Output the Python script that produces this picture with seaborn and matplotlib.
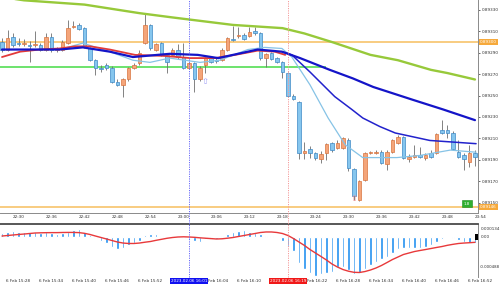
import matplotlib
matplotlib.use("Agg")
import matplotlib.pyplot as plt
import matplotlib.transforms as mtransforms
from matplotlib.lines import Line2D
import seaborn as sns

# ---------------- data ----------------
opens = [0.89300, 0.89293, 0.89305, 0.89299, 0.89298, 0.89297, 0.89297, 0.89297, 0.89293, 0.89305,
         0.89293, 0.89293, 0.89299, 0.89314, 0.89316, 0.89313, 0.89294, 0.89283, 0.89276, 0.89279,
         0.89276, 0.89263, 0.89260, 0.89265, 0.89276, 0.89280, 0.89299, 0.89316, 0.89293, 0.89299,
         0.89288, 0.89288, 0.89293, 0.89286, 0.89276, 0.89280, 0.89265, 0.89279, 0.89285, 0.89283,
         0.89283, 0.89293, 0.89303, 0.89306, 0.89307, 0.89306, 0.89310, 0.89308, 0.89285, 0.89290,
         0.89285, 0.89281, 0.89271, 0.89250, 0.89244, 0.89196, 0.89200, 0.89196, 0.89191, 0.89196,
         0.89206, 0.89201, 0.89201, 0.89208, 0.89181, 0.89152, 0.89171, 0.89196, 0.89196, 0.89197,
         0.89186, 0.89197, 0.89206, 0.89211, 0.89191, 0.89193, 0.89194, 0.89192, 0.89196, 0.89196,
         0.89218, 0.89218, 0.89215, 0.89197, 0.89194, 0.89188, 0.89196]
closes = [0.89293, 0.89304, 0.89297, 0.89298, 0.89299, 0.89296, 0.89298, 0.89293, 0.89305, 0.89293,
          0.89294, 0.89300, 0.89313, 0.89315, 0.89312, 0.89295, 0.89283, 0.89276, 0.89275, 0.89276,
          0.89263, 0.89260, 0.89265, 0.89276, 0.89279, 0.89290, 0.89316, 0.89294, 0.89298, 0.89288,
          0.89281, 0.89293, 0.89286, 0.89276, 0.89280, 0.89265, 0.89276, 0.89285, 0.89281, 0.89282,
          0.89293, 0.89304, 0.89302, 0.89307, 0.89303, 0.89309, 0.89308, 0.89285, 0.89289, 0.89284,
          0.89281, 0.89272, 0.89250, 0.89247, 0.89196, 0.89198, 0.89196, 0.89192, 0.89195, 0.89205,
          0.89199, 0.89206, 0.89210, 0.89182, 0.89156, 0.89170, 0.89196, 0.89197, 0.89197, 0.89187,
          0.89197, 0.89208, 0.89211, 0.89192, 0.89193, 0.89194, 0.89193, 0.89194, 0.89193, 0.89214,
          0.89215, 0.89215, 0.89200, 0.89193, 0.89191, 0.89196, 0.89193]
highs = [0.89304, 0.89311, 0.89308, 0.89304, 0.89303, 0.89301, 0.89310, 0.89299, 0.89308, 0.89308,
         0.89295, 0.89302, 0.89321, 0.89320, 0.89318, 0.89314, 0.89295, 0.89284, 0.89279, 0.89280,
         0.89278, 0.89265, 0.89266, 0.89277, 0.89280, 0.89293, 0.89327, 0.89317, 0.89299, 0.89300,
         0.89289, 0.89294, 0.89298, 0.89299, 0.89281, 0.89281, 0.89278, 0.89286, 0.89286, 0.89286,
         0.89294, 0.89305, 0.89315, 0.89314, 0.89308, 0.89314, 0.89314, 0.89309, 0.89290, 0.89291,
         0.89286, 0.89282, 0.89272, 0.89251, 0.89245, 0.89207, 0.89203, 0.89197, 0.89198, 0.89206,
         0.89207, 0.89208, 0.89211, 0.89210, 0.89182, 0.89171, 0.89197, 0.89198, 0.89199, 0.89199,
         0.89199, 0.89209, 0.89213, 0.89212, 0.89195, 0.89204, 0.89202, 0.89196, 0.89199, 0.89215,
         0.89227, 0.89222, 0.89217, 0.89208, 0.89196, 0.89204, 0.89199]
lows = [0.89291, 0.89292, 0.89295, 0.89296, 0.89296, 0.89281, 0.89295, 0.89292, 0.89292, 0.89291,
        0.89291, 0.89292, 0.89298, 0.89313, 0.89311, 0.89294, 0.89282, 0.89269, 0.89272, 0.89274,
        0.89262, 0.89259, 0.89249, 0.89264, 0.89275, 0.89279, 0.89298, 0.89293, 0.89292, 0.89287,
        0.89271, 0.89287, 0.89284, 0.89275, 0.89275, 0.89253, 0.89264, 0.89271, 0.89280, 0.89280,
        0.89282, 0.89292, 0.89301, 0.89304, 0.89302, 0.89305, 0.89307, 0.89283, 0.89277, 0.89283,
        0.89280, 0.89266, 0.89249, 0.89246, 0.89191, 0.89191, 0.89192, 0.89190, 0.89187, 0.89190,
        0.89197, 0.89200, 0.89200, 0.89179, 0.89152, 0.89151, 0.89170, 0.89195, 0.89195, 0.89186,
        0.89180, 0.89196, 0.89205, 0.89191, 0.89188, 0.89192, 0.89192, 0.89190, 0.89192, 0.89195,
        0.89214, 0.89210, 0.89199, 0.89192, 0.89180, 0.89183, 0.89184]

# moving averages (bar index, price)
ma_olive_x = [0, 4, 15, 25, 31, 42, 51, 55, 60, 67, 72, 78, 81, 86]
ma_olive_y = [0.89342, 0.89339, 0.89335, 0.89327, 0.89323, 0.89316, 0.89313, 0.89308, 0.89300,
              0.89288, 0.89283, 0.89274, 0.89271, 0.89265]
ma_blue_x = [0, 10.5, 14.7, 19.6, 23.8, 30.5, 35.6, 39.3, 46.5, 50.9, 54.2, 59.6, 63.8, 67.5, 74.7, 80.2, 86]
ma_blue_y = [0.89293, 0.89293, 0.89295, 0.89291, 0.89286, 0.89289, 0.89288, 0.89285, 0.89293,
             0.89291, 0.89285, 0.89274, 0.89266, 0.89258, 0.89246, 0.89237, 0.89227]
ma_blue2_x = [50.9, 52.7, 56, 60.5, 63.6, 65.6, 68.7, 71.5, 77.8, 86.2]
ma_blue2_y = [0.89291, 0.89288, 0.89272, 0.89249, 0.89237, 0.89229, 0.89221, 0.89215, 0.89208, 0.89205]
ma_light_x = [10.5, 14.7, 19.6, 23.8, 26.9, 30.5, 36, 39.6, 44.7, 47.8, 50.9, 52.7, 56, 59.3,
              62.4, 65.6, 71.8, 76, 81.5, 86.2]
ma_light_y = [0.89293, 0.89299, 0.89291, 0.89283, 0.89281, 0.89285, 0.89281, 0.89283, 0.89293,
              0.89295, 0.89294, 0.89286, 0.89260, 0.89229, 0.89204, 0.89192, 0.89192, 0.89194,
              0.89199, 0.89197]
ma_red_x = [0, 3.3, 6.9, 10.5, 13.3, 16, 19.6, 24.2, 29.6, 34.2, 38.7, 42.4, 46.5, 49.6, 51.5]
ma_red_y = [0.89286, 0.89291, 0.89293, 0.89294, 0.89296, 0.89296, 0.89293, 0.89288, 0.89287,
            0.89285, 0.89285, 0.89288, 0.89292, 0.89291, 0.89288]

level_upper = 0.89300
level_lower = 0.89146
level_green = 0.89277
level_green_end = 59

macd_hist = [0.000061, 0.000076, 0.000087, 0.000076, 0.000076, 0.000076, 0.000067, 0.000062, 0.000076, 0.000051,
             0.000042, 0.000051, 0.000076, 0.000103, 0.000118, 0.000076, 0.000025, -0.000026, -0.000062, -0.000104,
             -0.000156, -0.000197, -0.000182, -0.000131, -0.000104, -0.000062, 0.000025, 0.000036, 0.000036, 0.000016,
             -0.000005, -0.000005, 0.000005, -0.000026, -0.000036, -0.000062, -0.000078, -0.000042, -0.000036, -0.000042,
             0.000005, 0.000042, 0.000078, 0.000087, 0.000103, 0.000078, 0.000051, 0.000036, 0.000016, 0.000005,
             -0.000011, -0.000062, -0.000146, -0.000218, -0.000404, -0.000508, -0.000571, -0.000613, -0.000582, -0.000571,
             -0.000544, -0.000467, -0.000477, -0.000519, -0.000582, -0.000571, -0.000508, -0.000442, -0.000389, -0.000353,
             -0.000322, -0.000260, -0.000197, -0.000182, -0.000182, -0.000182, -0.000182, -0.000166, -0.000131, -0.000078,
             -0.000042, -0.000011, -0.000026, -0.000053, -0.000078, -0.000093, -0.000093]
macd_signal = [0.000009, 0.000017, 0.000025, 0.000033, 0.000040, 0.000048, 0.000056, 0.000059, 0.000061, 0.000062,
               0.000062, 0.000064, 0.000065, 0.000065, 0.000062, 0.000051, 0.000033, 0.000009, -0.000014, -0.000037,
               -0.000061, -0.000084, -0.000100, -0.000107, -0.000107, -0.000100, -0.000087, -0.000076, -0.000058, -0.000042,
               -0.000026, -0.000014, -0.000006, -0.000003, -0.000006, -0.000011, -0.000019, -0.000025, -0.000031, -0.000037,
               -0.000034, -0.000025, -0.000014, 0.000002, 0.000017, 0.000033, 0.000048, 0.000064, 0.000072, 0.000072,
               0.000064, 0.000048, 0.000017, -0.000030, -0.000084, -0.000138, -0.000201, -0.000255, -0.000309, -0.000364,
               -0.000426, -0.000473, -0.000512, -0.000538, -0.000555, -0.000558, -0.000543, -0.000519, -0.000488, -0.000449,
               -0.000403, -0.000356, -0.000317, -0.000278, -0.000255, -0.000232, -0.000216, -0.000201, -0.000185, -0.000169,
               -0.000154, -0.000135, -0.000120, -0.000107, -0.000100, -0.000095, -0.000089]

top_tick_idx = [3, 9, 15, 21, 27, 33, 39, 45, 51, 57, 63, 69, 75, 81, 87]
top_tick_lbl = ["22:30", "22:36", "22:42", "22:48", "22:54", "23:00", "23:06", "23:12", "23:18",
                "23:24", "23:30", "23:36", "23:42", "23:48", "23:54"]
# bottom time labels as they are visible (two are hidden behind the highlighted boxes,
# two are partly hidden, so only their visible part is kept)
bot_tick_idx = [3, 9, 15, 21, 27, 39, 45, 57, 63, 69, 75, 81, 87]
bot_tick_lbl = ["6 Feb 15:28", "6 Feb 15:34", "6 Feb 15:40", "6 Feb 15:46", "6 Feb 15:52",
                "Feb 16:04", "6 Feb 16:10", "Feb 16:22", "6 Feb 16:28", "6 Feb 16:34",
                "6 Feb 16:40", "6 Feb 16:46", "6 Feb 16:52"]
price_ticks = [0.89150, 0.89170, 0.89190, 0.89210, 0.89230, 0.89250, 0.89270, 0.89290, 0.89310, 0.89330]
vline_blue_idx = 34
vline_red_idx = 52
arrow_up_idx = [37, 64]
arrow_up_price = [0.89263, 0.89154]

# ---------------- figure ----------------
sns.set_theme(style="white")
plt.rcParams['font.family'] = ['DejaVu Sans']
W, H = 500, 287
fig = plt.figure(figsize=(W / 100, H / 100), dpi=100, facecolor="white")

def rect(x0, y0, x1, y1):
    return [x0 / W, 1 - y1 / H, (x1 - x0) / W, (y1 - y0) / H]

ax = fig.add_axes(rect(0, 0, 478, 213))
axm = fig.add_axes(rect(0, 224, 478, 277))
XL = (-0.364, 86.55)
FS = 3.0
TXT = "#303030"

# ---- main panel ----
n = len(opens)
idx = list(range(n))
for i in idx:
    o, c, h, l = opens[i], closes[i], highs[i], lows[i]
    bull = c > o
    fill = "#F4A57A" if bull else "#86C6EE"
    edge = "#D9743F" if bull else "#3F8AC6"
    ax.vlines(i, l, h, color="#6E6E6E", lw=0.6, zorder=3)
    hgt = max(abs(c - o), 0.000004)
    ax.bar(i, hgt, bottom=min(o, c), width=0.66, color=fill, edgecolor=edge, lw=0.5, zorder=4)

ax.axhline(level_upper, color="#F7BE5E", lw=1.1, zorder=2)
ax.axhline(level_lower, color="#F7BE5E", lw=1.1, zorder=2)
ax.hlines(level_green, XL[0], level_green_end, color="#45DB45", lw=1.1, zorder=2)

sns.lineplot(x=ma_olive_x, y=ma_olive_y, ax=ax, color="#97C93A", lw=1.7, sort=False, estimator=None, legend=False, zorder=5)
sns.lineplot(x=ma_light_x, y=ma_light_y, ax=ax, color="#86C3E6", lw=0.9, sort=False, estimator=None, legend=False, zorder=5)
sns.lineplot(x=ma_red_x, y=ma_red_y, ax=ax, color="#E23A3A", lw=1.3, sort=False, estimator=None, legend=False, zorder=5)
sns.lineplot(x=ma_blue2_x, y=ma_blue2_y, ax=ax, color="#2222CC", lw=1.1, sort=False, estimator=None, legend=False, zorder=6)
sns.lineplot(x=ma_blue_x, y=ma_blue_y, ax=ax, color="#1414C8", lw=1.6, sort=False, estimator=None, legend=False, zorder=6)

ax.text(arrow_up_idx[0], arrow_up_price[0], "\u21e7", color="#9A9AF5", fontsize=6, ha="center", va="center", zorder=7)
ax.text(arrow_up_idx[1], arrow_up_price[1], "\u21e7", color="#F28A8A", fontsize=6, ha="center", va="center", zorder=7)
ax.text(84.5, 0.89149, "1.8", color="white", fontsize=3, ha="center", va="center", zorder=8,
        bbox=dict(facecolor="#2FAF2F", edgecolor="#1E8A1E", pad=1.2, lw=0.4))

ax.set_xlim(*XL)
ax.set_ylim(0.891402, 0.893393)
ax.set_xticks([])
ax.yaxis.tick_right()
ax.set_yticks(price_ticks)
ax.set_yticklabels([f"{p:.5f}" for p in price_ticks])
ax.tick_params(axis="y", labelsize=FS, colors=TXT, length=1.5, width=0.5, pad=1.2)
for s in ["top", "left"]:
    ax.spines[s].set_visible(False)
for s in ["right", "bottom"]:
    ax.spines[s].set_color("#8A8A8A")
    ax.spines[s].set_linewidth(0.7)
ax.set_xlabel("")
ax.set_ylabel("")
ax.grid(False)
tr = mtransforms.blended_transform_factory(ax.transData, ax.transAxes)
for ti, tl in zip(top_tick_idx, top_tick_lbl):
    ax.text(ti, -0.0185, tl, transform=tr, fontsize=FS, color=TXT, ha="center", va="center", clip_on=False)

# ---- MACD panel ----
axm.bar(idx, macd_hist, width=0.45, color="#1E8FF0", zorder=3)
sns.lineplot(x=idx, y=macd_signal, ax=axm, color="#E8393B", lw=1.0, estimator=None, legend=False, zorder=4)
axm.set_xlim(*XL)
axm.set_ylim(-0.000628, 0.000196)
axm.set_xticks([])
axm.set_yticks([])
for s in ["left", "bottom"]:
    axm.spines[s].set_visible(False)
axm.spines["top"].set_color("#4A4A4A")
axm.spines["top"].set_linewidth(1.3)
axm.spines["right"].set_color("#8A8A8A")
axm.spines["right"].set_linewidth(0.7)
axm.set_xlabel("")
axm.set_ylabel("")
axm.grid(False)
trm = mtransforms.blended_transform_factory(axm.transData, axm.transAxes)
for ti, tl in zip(bot_tick_idx, bot_tick_lbl):
    if tl.startswith("Feb"):
        # partly hidden label: keep its visible right part aligned as in the chart
        ax_txt = axm.text(ti + 2.1, -0.075, tl, transform=trm, fontsize=FS, color=TXT,
                          ha="right", va="center", clip_on=False)
    else:
        axm.text(ti, -0.075, tl, transform=trm, fontsize=FS, color=TXT, ha="center", va="center", clip_on=False)

# ---- vertical dotted lines through both panels ----
def fig_x(i):
    return fig.transFigure.inverted().transform(ax.transData.transform((i, 0.8925)))[0]

for vi, col in [(vline_blue_idx, "#6A6AF8"), (vline_red_idx, "#F49A9A")]:
    fig.add_artist(Line2D([fig_x(vi)] * 2, [1 - 277 / H, 1.0], transform=fig.transFigure,
                          color=col, lw=0.7, ls=(0, (1.2, 1.2)), zorder=1))

# ---- right-side price / value labels ----
def fy(py):
    return 1 - py / H

fig.text(480 / W, fy(42), "0.89300", color="white", fontsize=FS, va="center", ha="left",
         bbox=dict(facecolor="#F6A93B", edgecolor="none", pad=0.8))
fig.text(480 / W, fy(207), "0.89146", color="white", fontsize=FS, va="center", ha="left",
         bbox=dict(facecolor="#F6A93B", edgecolor="none", pad=0.8))
fig.text(481 / W, fy(228.5), "0.000134", color=TXT, fontsize=FS, va="center", ha="left")
fig.text(476 / W, fy(236.8), " ", fontsize=2.5, va="center", ha="left",
         bbox=dict(facecolor="black", edgecolor="none", pad=0.6))
fig.text(481 / W, fy(236.8), "0.00", color=TXT, fontsize=FS, va="center", ha="left")
fig.text(479.5 / W, fy(267), "-0.000488", color=TXT, fontsize=2.8, va="center", ha="left")

# ---- highlighted time boxes ----
fig.text(fig_x(vline_blue_idx), fy(281), "2023.02.06 16:01", color="white", fontsize=FS,
         ha="center", va="center", bbox=dict(facecolor="#1010F0", edgecolor="none", pad=0.8))
fig.text(fig_x(vline_red_idx), fy(281), "2023.02.06 16:19", color="white", fontsize=FS,
         ha="center", va="center", bbox=dict(facecolor="#F01818", edgecolor="none", pad=0.8))

fig.savefig("out.png", dpi=100, facecolor="white")
